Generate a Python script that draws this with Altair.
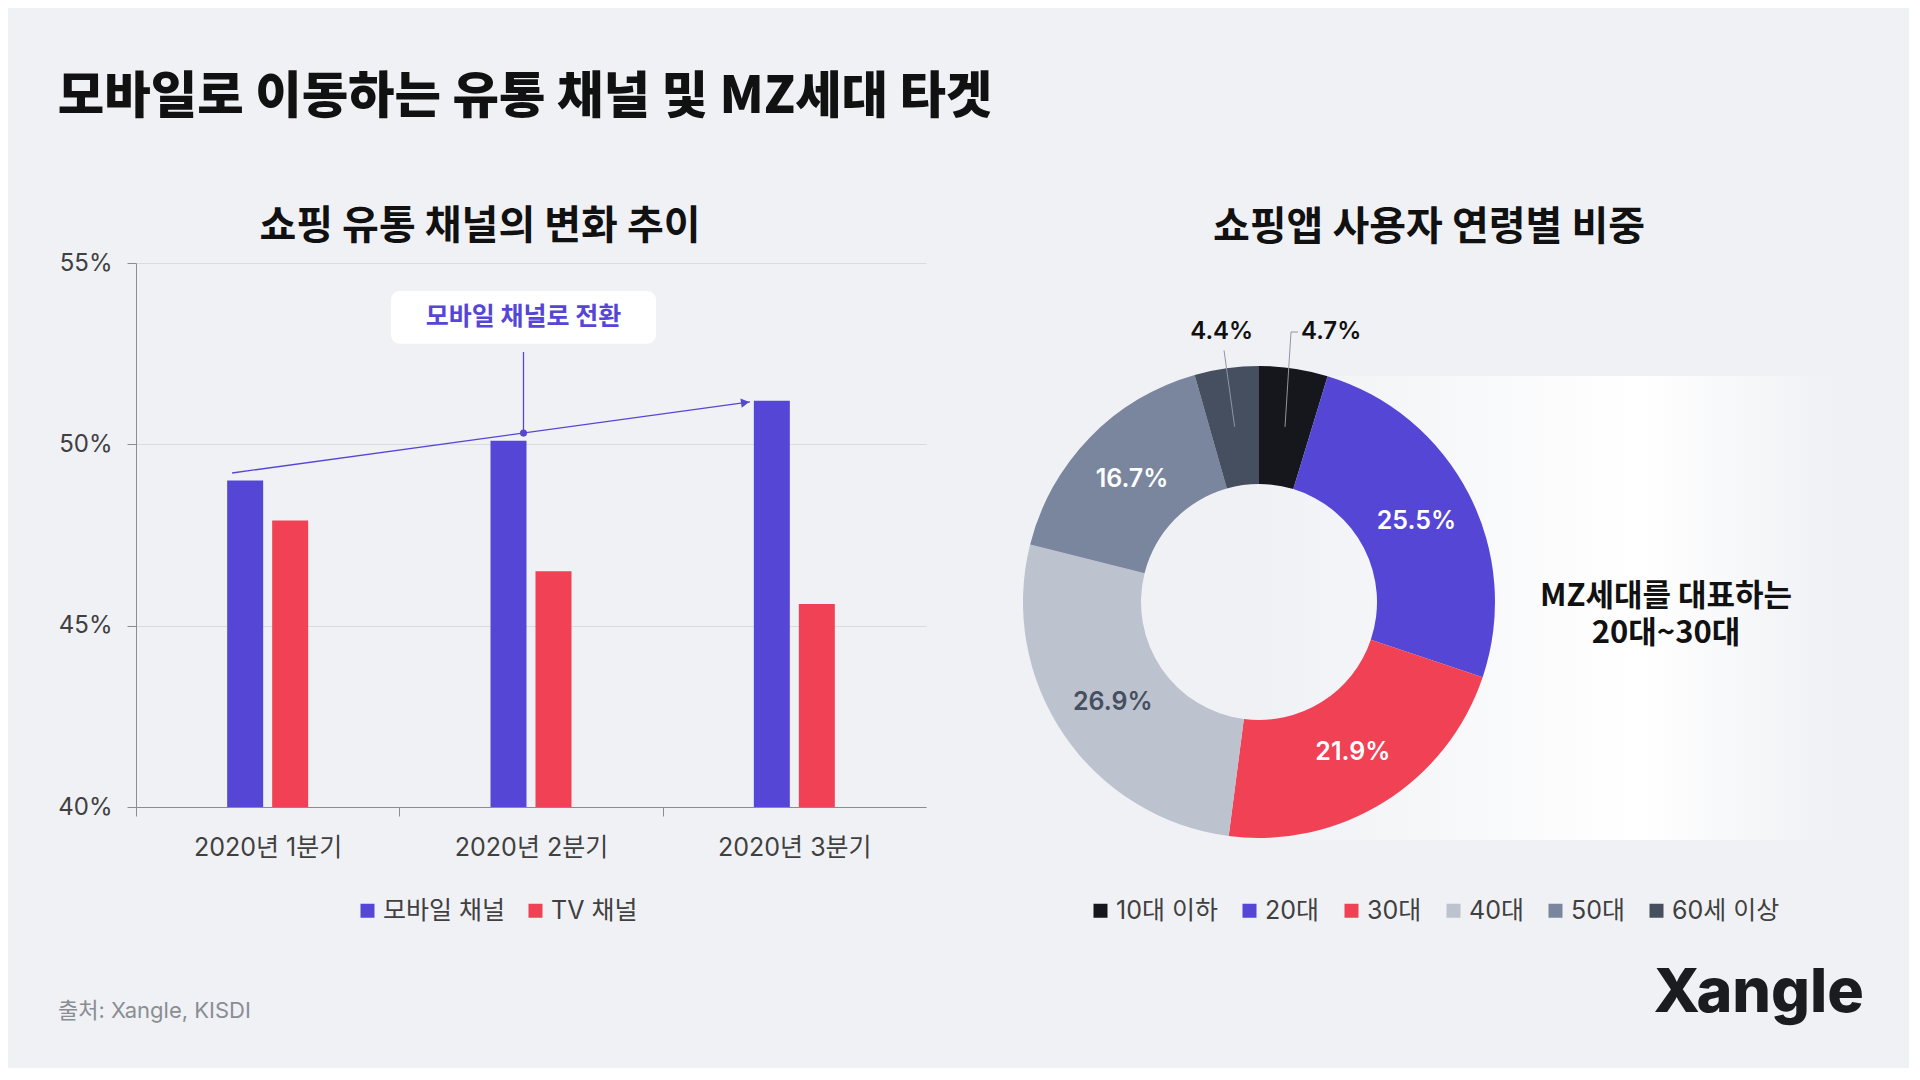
import math
import numpy as np
import pandas as pd
import altair as alt

# ---------------- data ----------------
quarters = ["2020년 1분기", "2020년 2분기", "2020년 3분기"]
series_names = ["모바일 채널", "TV 채널"]
mobile_share = [49.0, 50.1, 51.2]
tv_share = [47.9, 46.5, 45.6]

age_groups = ["10대 이하", "20대", "30대", "40대", "50대", "60세 이상"]
age_share = [4.7, 25.5, 21.9, 26.9, 16.7, 4.4]

main_title = "모바일로 이동하는 유통 채널 및 MZ세대 타겟"
bar_title = "쇼핑 유통 채널의 변화 추이"
donut_title = "쇼핑앱 사용자 연령별 비중"
callout_text = "모바일 채널로 전환"
mz_lines = ["MZ세대를 대표하는", "20대~30대"]
source_text = "출처: Xangle, KISDI"
logo_text = "Xangle"

# ---------------- styles ----------------
BG = "#f0f1f5"
PURPLE = "#5546d6"
RED = "#f04155"
INK = "#111111"
AXIS_TEXT = "#404040"
series_colors = [PURPLE, RED]
age_colors = ["#15171c", PURPLE, RED, "#bcc2ce", "#7a869e", "#454f5f"]
age_label_colors = ["#111111", "#ffffff", "#ffffff", "#454f5f", "#ffffff", "#111111"]
FONT = "Inter, 'Noto Sans CJK KR', sans-serif"
KFONT = "'Noto Sans CJK KR', Inter, sans-serif"

BW, BH = 790, 544          # bar plot area
DW, DH = 812, 544          # donut panel area
Y_DOMAIN = [40, 55]
PAIR_PAD = 0.6924          # band padding so that each bar pair is 81px wide
STEP = BW / len(quarters)  # category step, ticks sit on step boundaries

# ---------------- bar chart ----------------
bar_df = pd.DataFrame({
    "quarter": [q for s in series_names for q in quarters],
    "series": [s for s in series_names for q in quarters],
    "value": mobile_share + tv_share,
})

bars = alt.Chart(bar_df).mark_bar().encode(
    x=alt.X("quarter:N", sort=quarters,
            scale=alt.Scale(paddingInner=PAIR_PAD, paddingOuter=PAIR_PAD / 2),
            axis=alt.Axis(title=None, labelAngle=0,
                          tickOffset=-STEP / 2, labelOffset=STEP / 2,
                          domainColor="#8c8c8c", tickColor="#8c8c8c", tickSize=9,
                          labelFontSize=25, labelColor=AXIS_TEXT, labelFont=FONT,
                          labelPadding=19, grid=False)),
    xOffset=alt.XOffset("series:N", sort=series_names,
                        scale=alt.Scale(paddingInner=0.2, paddingOuter=0)),
    y=alt.Y("value:Q", scale=alt.Scale(domain=Y_DOMAIN, nice=False, zero=False),
            axis=alt.Axis(title=None, values=[40, 45, 50, 55],
                          labelExpr="datum.value + '%'", grid=True,
                          gridColor="#d9dbe1", domainColor="#8c8c8c",
                          tickColor="#8c8c8c", tickSize=9, labelFontSize=24,
                          labelColor=AXIS_TEXT, labelFont=FONT, labelPadding=15)),
    y2=alt.datum(40),
    color=alt.Color("series:N",
                    scale=alt.Scale(domain=series_names, range=series_colors),
                    legend=alt.Legend(title=None, orient="none", legendX=219, legendY=635,
                                      direction="horizontal", symbolType="square",
                                      symbolSize=196, symbolStrokeWidth=0,
                                      labelFontSize=25, labelColor=AXIS_TEXT,
                                      labelFont=FONT, labelOffset=3, columnPadding=17)),
)

# annotation (x in quarter-index units 0..3, y in %)
ann_x = alt.Scale(domain=[0, 3], nice=False, zero=False)
ann_y = alt.Scale(domain=Y_DOMAIN, nice=False, zero=False)
arrow = {"x": 0.365, "y": 49.21, "x2": 2.332, "y2": 51.17}
anchor = {"x": 1.4715, "y": 50.31, "y2": 52.545}
box = {"x": 0.968, "x2": 1.975, "y": 52.77, "y2": 54.23}

px_x = BW / 3.0
px_y = BH / float(Y_DOMAIN[1] - Y_DOMAIN[0])
dxp = (arrow["x2"] - arrow["x"]) * px_x
dyp = -(arrow["y2"] - arrow["y"]) * px_y
ang = math.atan2(dyp, dxp)
head_angle = math.degrees(ang) % 360
back = 5.0
head = {"x": arrow["x2"] - back * math.cos(ang) / px_x,
        "y": arrow["y2"] + back * math.sin(ang) / px_y}

arrow_line = alt.Chart(pd.DataFrame([arrow])).mark_rule(color=PURPLE, strokeWidth=1.3).encode(
    x=alt.X("x:Q", scale=ann_x, axis=None), x2="x2:Q",
    y=alt.Y("y:Q", scale=ann_y, axis=None), y2="y2:Q")
arrow_head = alt.Chart(pd.DataFrame([head])).mark_point(
    shape="triangle-right", filled=True, size=90, color=PURPLE, opacity=1,
    angle=head_angle).encode(
    x=alt.X("x:Q", scale=ann_x, axis=None),
    y=alt.Y("y:Q", scale=ann_y, axis=None))
stem = alt.Chart(pd.DataFrame([anchor])).mark_rule(color=PURPLE, strokeWidth=1.3).encode(
    x=alt.X("x:Q", scale=ann_x, axis=None),
    y=alt.Y("y:Q", scale=ann_y, axis=None), y2="y2:Q")
dot = alt.Chart(pd.DataFrame([anchor])).mark_circle(color=PURPLE, size=50, opacity=1).encode(
    x=alt.X("x:Q", scale=ann_x, axis=None),
    y=alt.Y("y:Q", scale=ann_y, axis=None))
box_rect = alt.Chart(pd.DataFrame([box])).mark_rect(color="white", cornerRadius=9).encode(
    x=alt.X("x:Q", scale=ann_x, axis=None), x2="x2:Q",
    y=alt.Y("y:Q", scale=ann_y, axis=None), y2="y2:Q")
box_text = alt.Chart(pd.DataFrame({
    "x": [(box["x"] + box["x2"]) / 2], "y": [(box["y"] + box["y2"]) / 2],
    "t": [callout_text]})).mark_text(
    fontSize=25, fontWeight=600, color=PURPLE, font=KFONT,
    align="center", baseline="middle").encode(
    x=alt.X("x:Q", scale=ann_x, axis=None),
    y=alt.Y("y:Q", scale=ann_y, axis=None), text="t:N")

source = alt.Chart(pd.DataFrame({"t": [source_text]})).mark_text(
    align="left", baseline="middle", fontSize=22, color="#8a8d93", font=FONT).encode(
    x=alt.value(-78), y=alt.value(748), text="t:N")

bar_chart = alt.layer(
    bars, arrow_line, arrow_head, stem, dot, box_rect, box_text, source
).resolve_scale(x="independent", y="independent").properties(
    width=BW, height=BH,
    title=alt.TitleParams(bar_title, anchor="middle", frame="group", dx=-51,
                          fontSize=40, fontWeight="bold", font=KFONT,
                          color=INK, offset=4),
)

# ---------------- donut chart ----------------
R_OUT, R_IN = 236, 118
R_MID = (R_OUT + R_IN) / 2.0
X_DOM = [-236, 576]
Y_DOM = [-205, 339]
xs = alt.Scale(domain=X_DOM, nice=False, zero=False)
ys = alt.Scale(domain=Y_DOM, nice=False, zero=False)
CX = DW * (0 - X_DOM[0]) / (X_DOM[1] - X_DOM[0])
CY = DH * (Y_DOM[1] - 0) / (Y_DOM[1] - Y_DOM[0])

shares = np.array(age_share)
total = shares.sum()
cum = np.cumsum(shares)
mids = (cum - shares / 2) / total * 2 * np.pi

donut_df = pd.DataFrame({"age": age_groups, "share": age_share,
                         "order": list(range(len(age_groups)))})

panel = alt.Chart(pd.DataFrame({"x": [0], "x2": [576], "y": [-238], "y2": [226]})).mark_rect(
    color=alt.LinearGradient(gradient="linear", x1=0, x2=1, y1=0, y2=0,
                             stops=[alt.GradientStop(offset=0, color=BG),
                                    alt.GradientStop(offset=0.66, color="#ffffff"),
                                    alt.GradientStop(offset=1, color=BG)])).encode(
    x=alt.X("x:Q", scale=xs, axis=None), x2="x2:Q",
    y=alt.Y("y:Q", scale=ys, axis=None), y2="y2:Q")

arcs = alt.Chart(donut_df).mark_arc(radius=R_OUT, radius2=R_IN).encode(
    theta=alt.Theta("share:Q", stack=True),
    order=alt.Order("order:Q"),
    x=alt.value(CX), y=alt.value(CY),
    color=alt.Color("age:N", scale=alt.Scale(domain=age_groups, range=age_colors),
                    legend=alt.Legend(title=None, orient="none", legendX=65, legendY=635,
                                      direction="horizontal", symbolType="square",
                                      symbolSize=196, symbolStrokeWidth=0,
                                      labelFontSize=25, labelColor=AXIS_TEXT,
                                      labelFont=FONT, labelOffset=3, columnPadding=19)),
)

inner_idx = [1, 2, 3, 4]
inner_df = pd.DataFrame({
    "x": [R_MID * math.sin(mids[i]) for i in inner_idx],
    "y": [R_MID * math.cos(mids[i]) for i in inner_idx],
    "t": [f"{age_share[i]}%" for i in inner_idx],
    "c": [age_label_colors[i] for i in inner_idx],
})
inner_labels = alt.Chart(inner_df).mark_text(
    fontSize=25, fontWeight=600, font=FONT, align="center", baseline="middle").encode(
    x=alt.X("x:Q", scale=xs, axis=None), y=alt.Y("y:Q", scale=ys, axis=None),
    text="t:N", color=alt.Color("c:N", scale=None))

# leader lines for the two small slices
R_LEAD_OUT = 254
LABEL_Y = 270
i0, i5 = 0, 5
p0 = (R_MID * math.sin(mids[i0]), R_MID * math.cos(mids[i0]))
p0b = (p0[0] + 6, LABEL_Y)
p0c = (p0b[0] + 7, LABEL_Y)
p5 = (R_MID * math.sin(mids[i5]), R_MID * math.cos(mids[i5]))
p5b = (R_LEAD_OUT * math.sin(mids[i5]), R_LEAD_OUT * math.cos(mids[i5]))
lead_df = pd.DataFrame({
    "seg": ["a", "a", "a", "b", "b"],
    "ord": [0, 1, 2, 0, 1],
    "x": [p0[0], p0b[0], p0c[0], p5[0], p5b[0]],
    "y": [p0[1], p0b[1], p0c[1], p5[1], p5b[1]],
})
leaders = alt.Chart(lead_df).mark_line(color="#8e95a3", strokeWidth=1).encode(
    x=alt.X("x:Q", scale=xs, axis=None), y=alt.Y("y:Q", scale=ys, axis=None),
    detail="seg:N", order="ord:Q")

R_OUT_LABEL = 271
out_left = alt.Chart(pd.DataFrame({
    "x": [R_OUT_LABEL * math.sin(mids[i5])], "y": [LABEL_Y],
    "t": [f"{age_share[i5]}%"]})).mark_text(
    fontSize=24, fontWeight=600, font=FONT, color=INK, align="center", baseline="middle").encode(
    x=alt.X("x:Q", scale=xs, axis=None), y=alt.Y("y:Q", scale=ys, axis=None), text="t:N")
out_right = alt.Chart(pd.DataFrame({
    "x": [p0c[0] + 3], "y": [LABEL_Y], "t": [f"{age_share[i0]}%"]})).mark_text(
    fontSize=24, fontWeight=600, font=FONT, color=INK, align="left", baseline="middle").encode(
    x=alt.X("x:Q", scale=xs, axis=None), y=alt.Y("y:Q", scale=ys, axis=None), text="t:N")

MZ_LINE_H = 37
mz = alt.Chart(pd.DataFrame({
    "x": [407] * len(mz_lines),
    "y": [5 - i * MZ_LINE_H for i in range(len(mz_lines))],
    "t": mz_lines})).mark_text(
    fontSize=31, fontWeight="bold", font=KFONT, color=INK, align="center",
    baseline="middle").encode(
    x=alt.X("x:Q", scale=xs, axis=None), y=alt.Y("y:Q", scale=ys, axis=None), text="t:N")

logo = alt.Chart(pd.DataFrame({"t": [logo_text]})).mark_text(
    fontSize=61, fontWeight=800, font="Inter, sans-serif", color="#1b1c1f",
    align="right", baseline="alphabetic").encode(
    x=alt.value(DW + 29), y=alt.value(749), text="t:N")

donut_chart = alt.layer(
    panel, arcs, inner_labels, leaders, out_left, out_right, mz, logo
).properties(
    width=DW, height=DH,
    title=alt.TitleParams(donut_title, anchor="middle", frame="group",
                          fontSize=40, fontWeight="bold", font=KFONT,
                          color=INK, offset=15),
)

chart = alt.hconcat(bar_chart, donut_chart, spacing=97, bounds="flush").resolve_scale(
    color="independent"
).properties(
    title=alt.TitleParams(main_title, anchor="start", fontSize=50.5, fontWeight=900,
                          font=KFONT, color=INK, offset=84),
    padding={"left": 49, "top": 64, "right": 45, "bottom": 44},
    background=BG,
).configure_view(strokeWidth=0)

chart.save("out.html", embed_options={"renderer": "svg", "actions": False})
